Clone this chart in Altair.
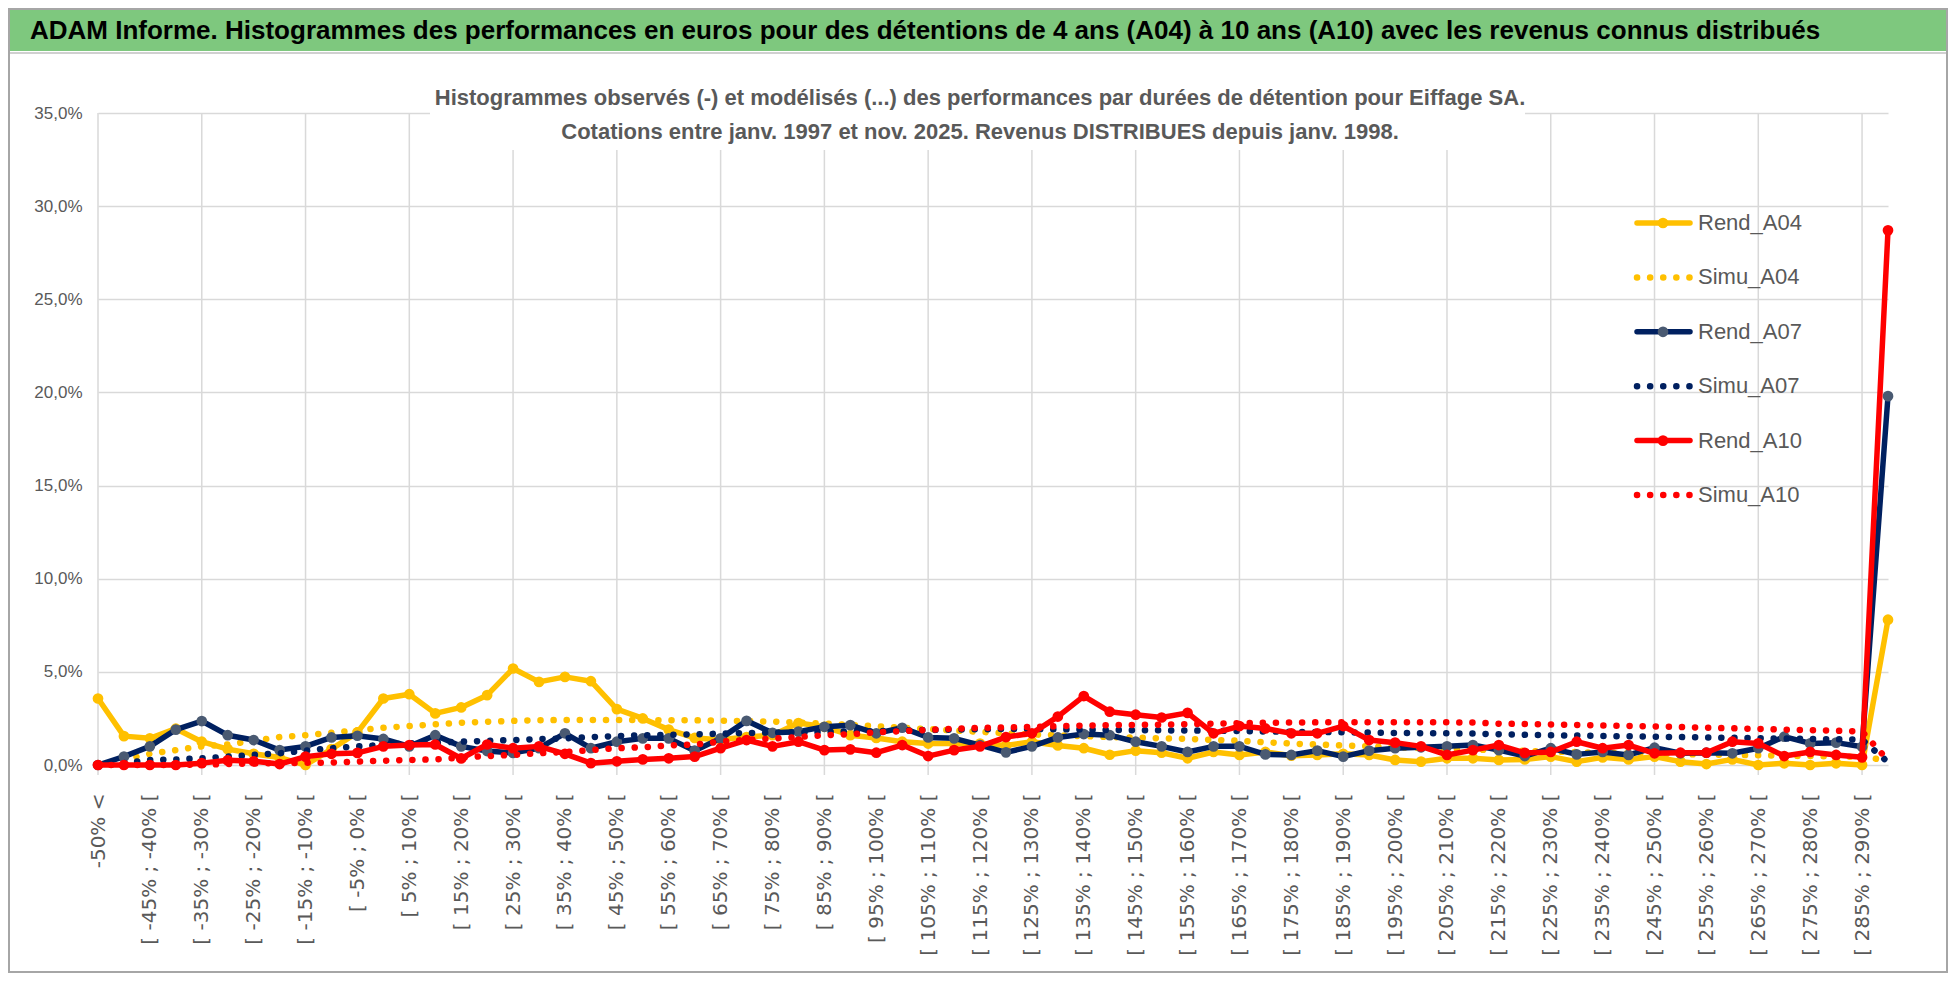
import altair as alt
import pandas as pd

categories = [
    "-50% <", "[ -50% ; -45% [", "[ -45% ; -40% [", "[ -40% ; -35% [", "[ -35% ; -30% [",
    "[ -30% ; -25% [", "[ -25% ; -20% [", "[ -20% ; -15% [", "[ -15% ; -10% [", "[ -10% ; -5% [",
    "[ -5% ; 0% [", "[ 0% ; 5% [", "[ 5% ; 10% [", "[ 10% ; 15% [", "[ 15% ; 20% [",
    "[ 20% ; 25% [", "[ 25% ; 30% [", "[ 30% ; 35% [", "[ 35% ; 40% [", "[ 40% ; 45% [",
    "[ 45% ; 50% [", "[ 50% ; 55% [", "[ 55% ; 60% [", "[ 60% ; 65% [", "[ 65% ; 70% [",
    "[ 70% ; 75% [", "[ 75% ; 80% [", "[ 80% ; 85% [", "[ 85% ; 90% [", "[ 90% ; 95% [",
    "[ 95% ; 100% [", "[ 100% ; 105% [", "[ 105% ; 110% [", "[ 110% ; 115% [", "[ 115% ; 120% [",
    "[ 120% ; 125% [", "[ 125% ; 130% [", "[ 130% ; 135% [", "[ 135% ; 140% [", "[ 140% ; 145% [",
    "[ 145% ; 150% [", "[ 150% ; 155% [", "[ 155% ; 160% [", "[ 160% ; 165% [", "[ 165% ; 170% [",
    "[ 170% ; 175% [", "[ 175% ; 180% [", "[ 180% ; 185% [", "[ 185% ; 190% [", "[ 190% ; 195% [",
    "[ 195% ; 200% [", "[ 200% ; 205% [", "[ 205% ; 210% [", "[ 210% ; 215% [", "[ 215% ; 220% [",
    "[ 220% ; 225% [", "[ 225% ; 230% [", "[ 230% ; 235% [", "[ 235% ; 240% [", "[ 240% ; 245% [",
    "[ 245% ; 250% [", "[ 250% ; 255% [", "[ 255% ; 260% [", "[ 260% ; 265% [", "[ 265% ; 270% [",
    "[ 270% ; 275% [", "[ 275% ; 280% [", "[ 280% ; 285% [", "[ 285% ; 290% [", "> 290%",
]

# values in percent
rend_a04 = [3.57, 1.55, 1.43, 1.95, 1.25, 0.85, 0.6, 0.4, 0.0, 0.85,
            1.75, 3.57, 3.8, 2.77, 3.09, 3.75, 5.18, 4.46, 4.73, 4.5,
            3.0, 2.5, 1.9, 1.45, 1.35, 1.5, 1.6, 2.25, 2.05, 1.6,
            1.45, 1.25, 1.15, 1.15, 1.15, 1.05, 1.25, 1.05, 0.9, 0.55,
            0.77, 0.66, 0.36, 0.7, 0.54, 0.7, 0.5, 0.54, 0.6, 0.54,
            0.27, 0.18, 0.36, 0.36, 0.27, 0.3, 0.45, 0.18, 0.41, 0.3,
            0.45, 0.18, 0.05, 0.3, 0.0, 0.09, 0.0, 0.09, 0.0, 7.8]
simu_a04 = [0.0, 0.3, 0.6, 0.8, 1.0, 1.1, 1.3, 1.5, 1.6, 1.73,
            1.87, 2.0, 2.09, 2.18, 2.27, 2.32, 2.37, 2.4, 2.42, 2.42,
            2.42, 2.42, 2.4, 2.4, 2.38, 2.36, 2.33, 2.28, 2.22, 2.15,
            2.08, 2.0, 1.93, 1.85, 1.78, 1.71, 1.64, 1.6, 1.55, 1.5,
            1.47, 1.43, 1.4, 1.35, 1.3, 1.22, 1.15, 1.1, 1.05, 1.0,
            0.95, 0.91, 0.87, 0.83, 0.79, 0.76, 0.72, 0.69, 0.66, 0.63,
            0.6, 0.58, 0.56, 0.54, 0.52, 0.5, 0.48, 0.46, 0.44, 0.25]
rend_a07 = [0.0, 0.45, 1.0, 1.9, 2.36, 1.6, 1.34, 0.8, 1.0, 1.48,
            1.57, 1.4, 1.0, 1.6, 1.0, 0.75, 0.65, 0.9, 1.7, 0.9,
            1.25, 1.43, 1.43, 0.77, 1.43, 2.37, 1.73, 1.79, 2.05, 2.14,
            1.7, 2.0, 1.48, 1.43, 1.07, 0.68, 1.0, 1.48, 1.66, 1.6,
            1.25, 1.0, 0.7, 1.0, 1.0, 0.57, 0.54, 0.77, 0.45, 0.77,
            0.9, 0.95, 1.0, 1.07, 0.8, 0.48, 0.9, 0.57, 0.7, 0.54,
            0.93, 0.63, 0.66, 0.63, 0.9, 1.52, 1.16, 1.2, 0.98, 19.8]
simu_a07 = [0.0, 0.1, 0.27, 0.3, 0.36, 0.45, 0.54, 0.63, 0.77, 0.9,
            1.0, 1.07, 1.16, 1.2, 1.25, 1.3, 1.34, 1.39, 1.43, 1.5,
            1.55, 1.6, 1.62, 1.65, 1.68, 1.72, 1.74, 1.76, 1.78, 1.8,
            1.82, 1.85, 1.88, 1.9, 1.92, 1.93, 1.93, 1.92, 1.9, 1.88,
            1.87, 1.86, 1.85, 1.84, 1.82, 1.8, 1.78, 1.77, 1.76, 1.74,
            1.72, 1.71, 1.7, 1.69, 1.65, 1.62, 1.6, 1.58, 1.56, 1.54,
            1.52, 1.5, 1.48, 1.46, 1.44, 1.42, 1.4, 1.38, 1.36, 0.15]
rend_a10 = [0.0, 0.0, 0.0, 0.0, 0.1, 0.25, 0.2, 0.05, 0.45, 0.6,
            0.65, 1.0, 1.07, 1.1, 0.35, 1.1, 0.9, 1.0, 0.6, 0.1,
            0.2, 0.3, 0.36, 0.45, 0.9, 1.34, 1.0, 1.25, 0.8, 0.84,
            0.66, 1.07, 0.48, 0.8, 1.0, 1.5, 1.7, 2.6, 3.7, 2.86,
            2.7, 2.55, 2.8, 1.7, 2.09, 1.96, 1.7, 1.7, 2.09, 1.34,
            1.2, 1.0, 0.54, 0.8, 1.07, 0.65, 0.7, 1.25, 0.9, 1.07,
            0.63, 0.66, 0.66, 1.25, 1.16, 0.48, 0.7, 0.54, 0.41, 28.7]
simu_a10 = [0.0, 0.0, 0.0, 0.0, 0.02, 0.05, 0.08, 0.1, 0.12, 0.13,
            0.18, 0.23, 0.27, 0.3, 0.4, 0.48, 0.54, 0.63, 0.7, 0.8,
            0.9, 0.95, 1.05, 1.1, 1.25, 1.35, 1.42, 1.5, 1.6, 1.65,
            1.75, 1.82, 1.88, 1.95, 2.0, 2.02, 2.05, 2.08, 2.12, 2.14,
            2.15, 2.17, 2.19, 2.22, 2.25, 2.27, 2.28, 2.29, 2.3, 2.3,
            2.3, 2.3, 2.29, 2.28, 2.22, 2.2, 2.18, 2.15, 2.12, 2.1,
            2.07, 2.04, 2.0, 1.97, 1.94, 1.9, 1.87, 1.84, 1.8, 0.25]

series_names = ["Rend_A04", "Simu_A04", "Rend_A07", "Simu_A07", "Rend_A10", "Simu_A10"]
series_values = [rend_a04, simu_a04, rend_a07, simu_a07, rend_a10, simu_a10]
series_colors = ["#FFC000", "#FFC000", "#002060", "#002060", "#FF0000", "#FF0000"]
marker_series = ["Rend_A04", "Rend_A07", "Rend_A10"]
marker_colors = ["#FFC000", "#4A5A72", "#FF0000"]
y_ticks = [0.0, 0.05, 0.10, 0.15, 0.20, 0.25, 0.30, 0.35]

title_text = ("ADAM Informe. Histogrammes des performances en euros pour des détentions "
              "de 4 ans (A04) à 10 ans (A10) avec les revenus connus distribués")
subtitle_1 = ("Histogrammes observés (-) et modélisés (...) des performances par durées "
              "de détention pour Eiffage SA.")
subtitle_2 = "Cotations entre janv. 1997 et nov. 2025. Revenus DISTRIBUES depuis janv. 1998."

rows = []
for name, vals in zip(series_names, series_values):
    for cat, v in zip(categories, vals):
        rows.append({"serie": name, "cat": cat, "value": v / 100.0})
df = pd.DataFrame(rows)
df_grid = pd.DataFrame({"cat": categories[::4]})
df_leg = pd.DataFrame({"serie": series_names})

FONT = "Liberation Sans, Arial, sans-serif"
GRAY = "#595959"
GRID = "#D9D9D9"
W, H = 1790, 652
DOTS = [0.1, 13]

x_scale = alt.Scale(domain=categories, type="point", padding=0)
x_axis = alt.Axis(values=categories[::2], labelAngle=-90, labelFont="DejaVu Sans",
                  labelFontSize=20, labelColor=GRAY, grid=False, ticks=False,
                  domain=False, labelPadding=28, title=None, labelOverlap=False,
                  labelLimit=400)
y_scale = alt.Scale(domain=[0, 0.35], nice=False)
y_axis = alt.Axis(values=y_ticks, labelExpr="replace(format(datum.value, '.1%'), '.', ',')",
                  grid=True, gridColor=GRID, gridWidth=1.5, domain=False, ticks=False,
                  labelPadding=16, labelFont=FONT, labelFontSize=17, labelColor=GRAY,
                  title=None)

X = alt.X("cat:N", scale=x_scale, axis=x_axis, sort=categories)
Y = alt.Y("value:Q", scale=y_scale, axis=y_axis)
color_scale = alt.Scale(domain=series_names, range=series_colors)
fill_scale = alt.Scale(domain=marker_series, range=marker_colors)

layers = [alt.Chart(df_grid).mark_rule(color=GRID, strokeWidth=1.5).encode(
    x=X, y=alt.value(0), y2=alt.value(H + 10))]

for name in series_names:
    base = alt.Chart(df).transform_filter(alt.datum.serie == name)
    if name.startswith("Rend"):
        layers.append(base.mark_line(strokeWidth=5.5, strokeJoin="round", strokeCap="round").encode(
            x=X, y=Y, color=alt.Color("serie:N", scale=color_scale, legend=None)))
        layers.append(base.mark_circle(size=115, opacity=1).encode(
            x=X, y=Y, fill=alt.Fill("serie:N", scale=fill_scale, legend=None)))
    else:
        layers.append(base.mark_line(strokeWidth=6.5, strokeCap="round", strokeDash=DOTS).encode(
            x=X, y=Y, color=alt.Color("serie:N", scale=color_scale, legend=None)))

main = alt.layer(*layers)

# legend (inside the plot, on the right)
LY = alt.Y("serie:N", scale=alt.Scale(type="point", domain=series_names, range=[110, 382], padding=0),
           axis=None)
leg_base = alt.Chart(df_leg)
leg_solid = leg_base.transform_filter(alt.FieldOneOfPredicate(field="serie", oneOf=marker_series)
    ).mark_rule(strokeWidth=5.5, strokeCap="round").encode(
    x=alt.value(1539), x2=alt.value(1592), y=LY,
    color=alt.Color("serie:N", scale=color_scale, legend=None))
leg_dots = leg_base.transform_filter(~alt.FieldOneOfPredicate(field="serie", oneOf=marker_series)
    ).mark_rule(strokeWidth=6.5, strokeCap="round", strokeDash=DOTS).encode(
    x=alt.value(1539), x2=alt.value(1594), y=LY,
    color=alt.Color("serie:N", scale=color_scale, legend=None))
leg_marks = leg_base.transform_filter(alt.FieldOneOfPredicate(field="serie", oneOf=marker_series)
    ).mark_circle(size=115, opacity=1).encode(
    x=alt.value(1565), y=LY, fill=alt.Fill("serie:N", scale=fill_scale, legend=None))
leg_text = leg_base.mark_text(font=FONT, fontSize=22, color=GRAY, align="left",
                              baseline="middle").encode(
    x=alt.value(1600), y=LY, text="serie:N")
legend = alt.layer(leg_solid, leg_dots, leg_marks, leg_text)

one = pd.DataFrame({"t": [title_text], "s1": [subtitle_1], "s2": [subtitle_2]})

sub_bg = alt.Chart(one).mark_rect(color="white").encode(
    x=alt.value(332), x2=alt.value(1427), y=alt.value(-35), y2=alt.value(37))
sub1 = alt.Chart(one).mark_text(font=FONT, fontSize=22, fontWeight="bold", color=GRAY,
                                align="center", baseline="alphabetic").encode(
    x=alt.value(882), y=alt.value(-8), text="s1:N")
sub2 = alt.Chart(one).mark_text(font=FONT, fontSize=22, fontWeight="bold", color=GRAY,
                                align="center", baseline="alphabetic").encode(
    x=alt.value(882), y=alt.value(26), text="s2:N")

banner = alt.Chart(one).mark_rect(color="#7EC87E").encode(
    x=alt.value(-90), x2=alt.value(1850), y=alt.value(-105), y2=alt.value(-62))
banner_line = alt.Chart(one).mark_rule(color="#D0D0D0", strokeWidth=2).encode(
    x=alt.value(-90), x2=alt.value(1850), y=alt.value(-60))
title = alt.Chart(one).mark_text(font=FONT, fontSize=26, fontWeight="bold", color="black",
                                 align="left", baseline="alphabetic").encode(
    x=alt.value(-68), y=alt.value(-74), text="t:N")
border = alt.Chart(one).mark_rect(fill=None, stroke="#A6A6A6", strokeWidth=2).encode(
    x=alt.value(-89), x2=alt.value(1849), y=alt.value(-104), y2=alt.value(859))

chart = alt.layer(main, legend, sub_bg, sub1, sub2, banner, banner_line, title, border
).resolve_scale(y="independent").properties(
    width=W, height=H,
    autosize=alt.AutoSizeParams(type="none"),
    padding={"left": 90, "top": 105, "right": 60, "bottom": 208},
    background="white",
).configure_view(strokeWidth=0)

chart.save("out.html", embed_options={"renderer": "svg", "actions": False})
